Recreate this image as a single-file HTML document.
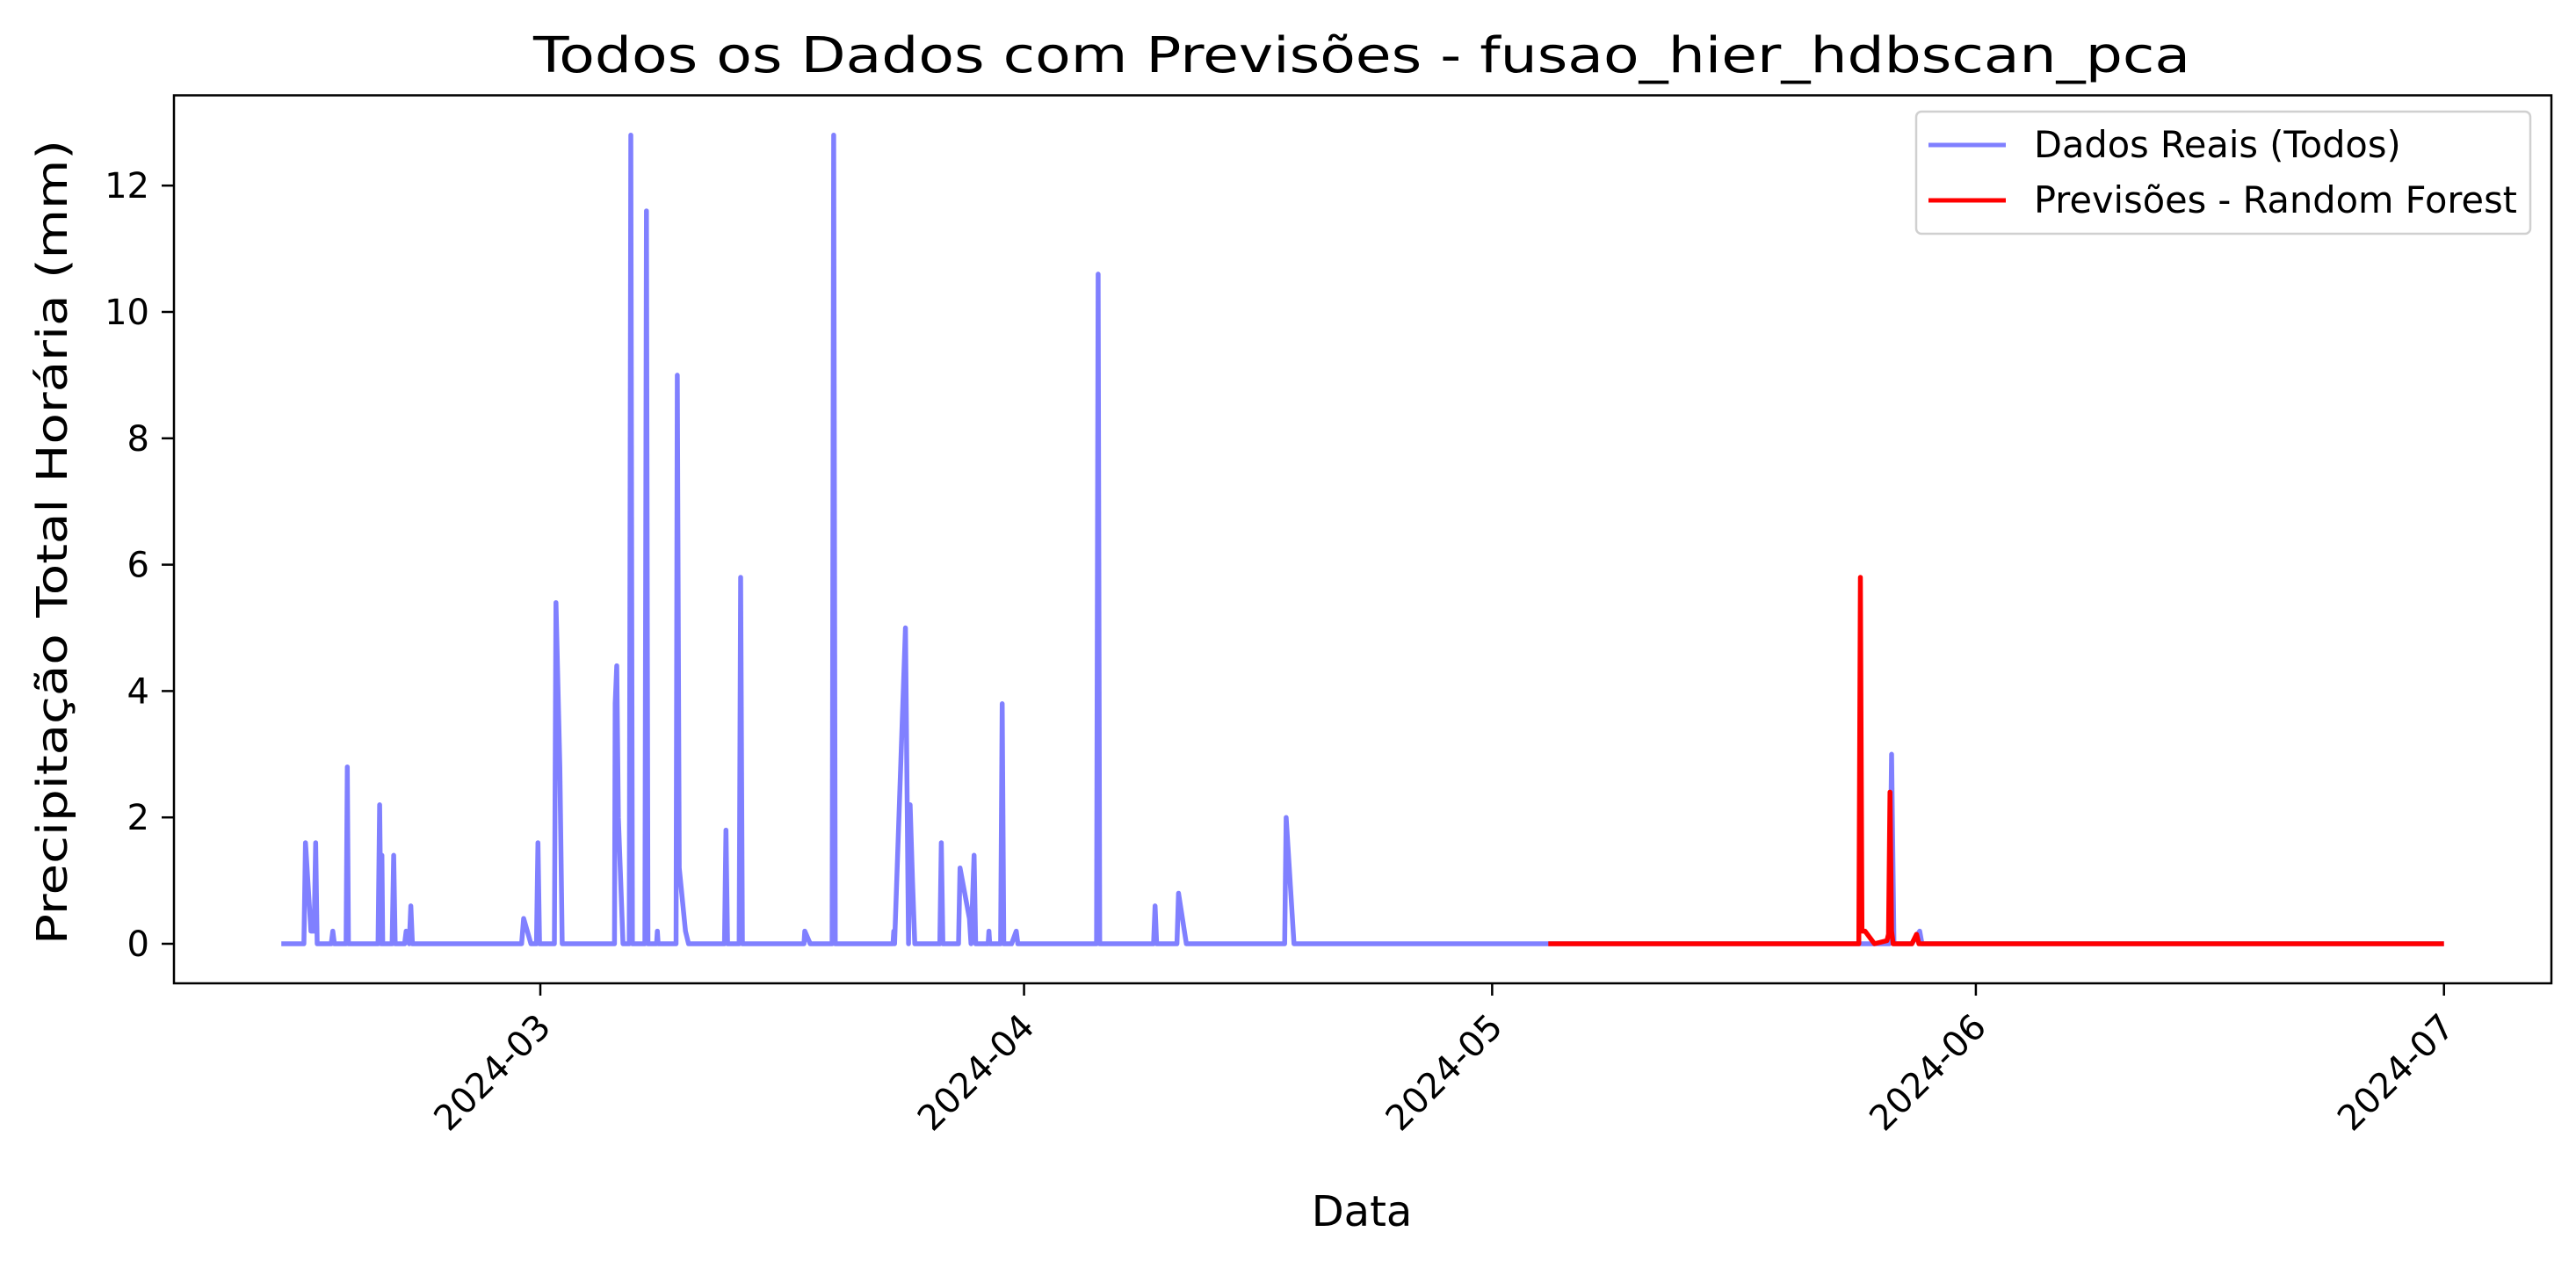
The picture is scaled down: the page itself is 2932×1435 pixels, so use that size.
<!DOCTYPE html>
<html><head><meta charset="utf-8"><style>
html,body{margin:0;padding:0;background:#fff;}
svg{display:block;font-family:"DejaVu Sans","Liberation Sans",sans-serif;}
</style></head><body>
<svg id="chart" width="2932" height="1435" viewBox="0 0 2932 1435" xmlns="http://www.w3.org/2000/svg">
<rect width="2932" height="1435" fill="#fff"/>
<text x="1550" y="82" font-size="56" text-anchor="middle" textLength="1886" lengthAdjust="spacingAndGlyphs">Todos os Dados com Previsões - fusao_hier_hdbscan_pca</text>
<g id="plot"></g>
<rect x="198" y="108.5" width="2706" height="1010.5" fill="none" stroke="#000" stroke-width="2.5"/>
<g id="axes"></g>
<text x="1550" y="1395" font-size="48" text-anchor="middle">Data</text>
<text transform="translate(76,617) rotate(-90)" font-size="48" text-anchor="middle" textLength="916" lengthAdjust="spacingAndGlyphs">Precipitação Total Horária (mm)</text>
<g>
<rect x="2181" y="127" width="699" height="139" rx="6" fill="#fff" fill-opacity="0.8" stroke="#d0d0d0" stroke-width="2.5"/>
<line x1="2195" y1="165" x2="2283" y2="165" stroke="#8080ff" stroke-width="5"/>
<text x="2315" y="179" font-size="41.5">Dados Reais (Todos)</text>
<line x1="2195" y1="228" x2="2283" y2="228" stroke="#ff0000" stroke-width="5"/>
<text x="2315" y="242" font-size="41.5">Previsões - Random Forest</text>
</g>
</svg>
<script>
// days relative to 2024-03-01
const realDays = [-16.6,-15.15,-15.05,-14.7,-14.5,-14.4,-14.3,-13.4,-13.3,-13.2,-12.45,-12.37,-12.3,-10.4,-10.3,-10.2,-10.15,-10.1,-9.5,-9.4,-9.3,-9.2,-8.7,-8.6,-8.4,-8.3,-8.2,-1.2,-1.07,-0.95,-0.6,-0.25,-0.15,-0.05,0.9,1.0,1.25,1.4,4.75,4.8,4.9,5.0,5.3,5.7,5.8,5.9,6.7,6.8,6.9,7.45,7.5,7.55,8.7,8.78,8.9,9.3,9.5,11.8,11.9,12.0,12.74,12.84,12.95,16.9,16.95,17.3,18.7,18.8,18.9,22.6,22.65,22.7,23.4,23.6,23.7,23.85,24.0,24.4,25.6,25.7,25.8,26.8,26.9,27.5,27.6,27.8,27.9,28.0,28.7,28.75,28.8,29.5,29.6,29.7,30.2,30.5,30.6,35.65,35.75,35.85,39.3,39.4,39.5,40.8,40.9,41.4,47.7,47.8,48.3,64.6,86.45,86.6,86.75,87.9,88.4,88.55,122];
const realVals = [0,0,1.6,0.2,0.2,1.6,0,0,0.2,0,0,2.8,0,0,2.2,0,1.4,0,0,1.4,0,0,0,0.2,0,0.6,0,0,0.4,0.3,0,0,1.6,0,0,5.4,2.8,0,0,3.8,4.4,2.0,0,0,12.8,0,0,11.6,0,0,0.2,0,0,9.0,1.2,0.2,0,0,1.8,0,0,5.8,0,0,0.2,0,0,12.8,0,0,0.2,0,5.0,0,2.2,1.0,0,0,0,1.6,0,0,1.2,0.4,0,1.4,0,0,0,0.2,0,0,3.8,0,0,0.2,0,0,10.6,0,0,0.6,0,0,0.8,0,0,2.0,0,0,0,3.0,0,0,0.2,0,0];
const predDays = [64.6,84.5,84.6,84.7,84.9,85.5,86.3,86.4,86.5,86.6,86.7,87.9,88.2,88.35,122];
const predVals = [0,0,5.8,0.2,0.2,0,0.05,0.15,2.4,0.2,0,0,0.15,0,0];
const yTicks = [0,2,4,6,8,10,12];
const xTickDays = [0,31,61,92,122];
const xTickLabels = ["2024-03","2024-04","2024-05","2024-06","2024-07"];

const NS="http://www.w3.org/2000/svg";
const X0=615, PXD=17.76, Y0=1074, PXU=71.9, YB=1119;
const xs=d=>X0+d*PXD, ys=v=>Y0-v*PXU;
const plot=document.getElementById('plot'), axes=document.getElementById('axes');
function mk(tag,attrs,parent){const e=document.createElementNS(NS,tag);for(const k in attrs)e.setAttribute(k,attrs[k]);parent.appendChild(e);return e;}
function pathD(ds,vs){return ds.map((d,i)=>(i?'L':'M')+xs(d).toFixed(1)+','+ys(vs[i]).toFixed(1)).join('');}
const rl=mk('path',{d:pathD(realDays,realVals),fill:'none',stroke:'#8080ff','stroke-width':5.5,'stroke-linejoin':'round'},plot);


const pl=mk('path',{d:pathD(predDays,predVals),fill:'none',stroke:'#ff0000','stroke-width':5.5,'stroke-linejoin':'round'},plot);


yTicks.forEach(v=>{
  const y=ys(v);
  const t=mk('line',{x1:184,x2:198,y1:y,y2:y,stroke:'#000','stroke-width':2.5},axes);
  
  
  const l=mk('text',{x:170,y:y+14,'font-size':40,'text-anchor':'end'},axes);
  l.textContent=v;
  
  
});
xTickDays.forEach((d,i)=>{
  const x=xs(d);
  const t=mk('line',{x1:x,x2:x,y1:YB,y2:YB+14,stroke:'#000','stroke-width':2.5},axes);
  
  
  const l=mk('text',{transform:`translate(${x+14},${YB+52}) rotate(-45)`,'font-size':40,'text-anchor':'end'},axes);
  l.textContent=xTickLabels[i];
  
  
});
</script>
</body></html>
